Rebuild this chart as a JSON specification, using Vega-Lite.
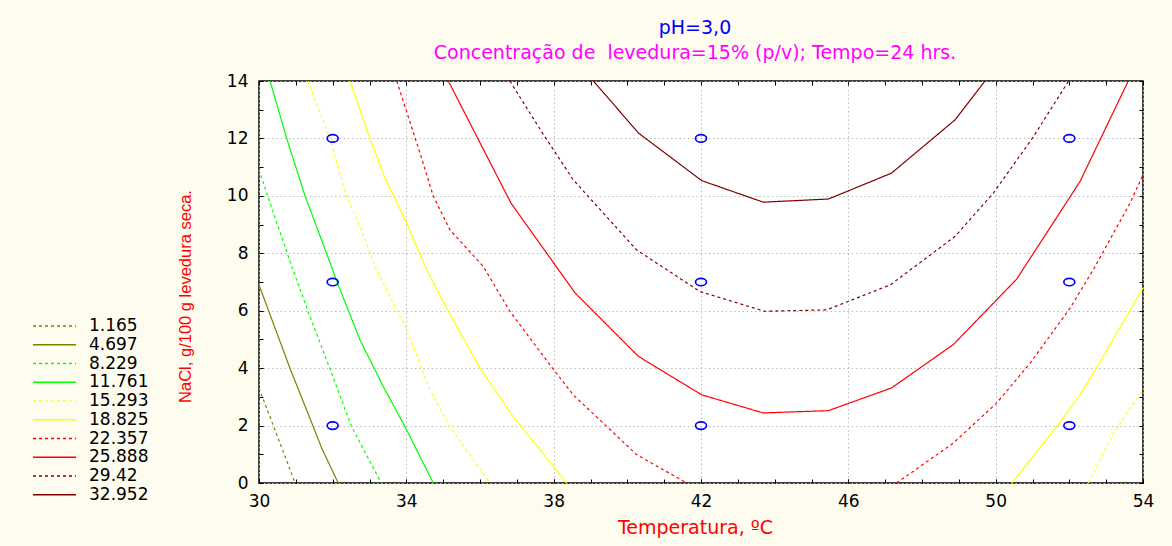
{
  "$schema": "https://vega.github.io/schema/vega-lite/v6.json",
  "autosize": {"type": "none"},
  "width": 884,
  "height": 402,
  "padding": {"left": 259, "top": 81, "right": 29, "bottom": 63},
  "background": "#FEFCEF",
  "config": {
    "view": {"stroke": "#000000", "strokeWidth": 1.5, "fill": "#FFFFFF"}
  },
  "title": {
    "text": "pH=3,0",
    "subtitle": "Concentração de\u00a0 levedura=15% (p/v); Tempo=24 hrs.",
    "color": "#0000FF",
    "subtitleColor": "#FF00FF",
    "font": "DejaVu Sans",
    "subtitleFont": "DejaVu Sans",
    "fontSize": 19,
    "subtitleFontSize": 19,
    "fontWeight": "normal",
    "anchor": "middle",
    "offset": 9,
    "subtitlePadding": 6,
    "dx": -6
  },
  "datasets": {
    "contours": [
      {"level": "1.165", "seg": "1.165a", "i": 0, "x": 30, "y": 3.3},
      {"level": "1.165", "seg": "1.165a", "i": 1, "x": 30.39, "y": 2.0},
      {"level": "1.165", "seg": "1.165a", "i": 2, "x": 30.98, "y": 0},
      {"level": "4.697", "seg": "4.697a", "i": 0, "x": 30, "y": 6.9},
      {"level": "4.697", "seg": "4.697a", "i": 1, "x": 30.84, "y": 4.0},
      {"level": "4.697", "seg": "4.697a", "i": 2, "x": 31.47, "y": 1.97},
      {"level": "4.697", "seg": "4.697a", "i": 3, "x": 31.7, "y": 1.22},
      {"level": "4.697", "seg": "4.697a", "i": 4, "x": 32.15, "y": 0},
      {"level": "8.229", "seg": "8.229a", "i": 0, "x": 30, "y": 10.91},
      {"level": "8.229", "seg": "8.229a", "i": 1, "x": 30.3, "y": 9.75},
      {"level": "8.229", "seg": "8.229a", "i": 2, "x": 30.89, "y": 7.54},
      {"level": "8.229", "seg": "8.229a", "i": 3, "x": 31.33, "y": 5.98},
      {"level": "8.229", "seg": "8.229a", "i": 4, "x": 31.92, "y": 4.0},
      {"level": "8.229", "seg": "8.229a", "i": 5, "x": 32.51, "y": 1.97},
      {"level": "8.229", "seg": "8.229a", "i": 6, "x": 33.32, "y": 0},
      {"level": "11.761", "seg": "11.761a", "i": 0, "x": 30.3, "y": 14},
      {"level": "11.761", "seg": "11.761a", "i": 1, "x": 30.75, "y": 12.01},
      {"level": "11.761", "seg": "11.761a", "i": 2, "x": 31.25, "y": 10.0},
      {"level": "11.761", "seg": "11.761a", "i": 3, "x": 31.83, "y": 8.01},
      {"level": "11.761", "seg": "11.761a", "i": 4, "x": 32.15, "y": 6.9},
      {"level": "11.761", "seg": "11.761a", "i": 5, "x": 32.74, "y": 4.99},
      {"level": "11.761", "seg": "11.761a", "i": 6, "x": 33.42, "y": 3.25},
      {"level": "11.761", "seg": "11.761a", "i": 7, "x": 33.96, "y": 1.97},
      {"level": "11.761", "seg": "11.761a", "i": 8, "x": 34.73, "y": 0},
      {"level": "15.293", "seg": "15.293a", "i": 0, "x": 31.33, "y": 14},
      {"level": "15.293", "seg": "15.293a", "i": 1, "x": 31.92, "y": 12.01},
      {"level": "15.293", "seg": "15.293a", "i": 2, "x": 32.37, "y": 10.0},
      {"level": "15.293", "seg": "15.293a", "i": 3, "x": 32.74, "y": 8.93},
      {"level": "15.293", "seg": "15.293a", "i": 4, "x": 33.19, "y": 7.43},
      {"level": "15.293", "seg": "15.293a", "i": 5, "x": 34.01, "y": 5.34},
      {"level": "15.293", "seg": "15.293a", "i": 6, "x": 34.64, "y": 3.25},
      {"level": "15.293", "seg": "15.293a", "i": 7, "x": 35.18, "y": 1.97},
      {"level": "15.293", "seg": "15.293a", "i": 8, "x": 36.27, "y": 0},
      {"level": "15.293", "seg": "15.293b", "i": 0, "x": 52.52, "y": 0},
      {"level": "15.293", "seg": "15.293b", "i": 1, "x": 53.2, "y": 1.75},
      {"level": "15.293", "seg": "15.293b", "i": 2, "x": 54, "y": 3.25},
      {"level": "18.825", "seg": "18.825a", "i": 0, "x": 32.47, "y": 14},
      {"level": "18.825", "seg": "18.825a", "i": 1, "x": 33.01, "y": 12.01},
      {"level": "18.825", "seg": "18.825a", "i": 2, "x": 33.42, "y": 10.62},
      {"level": "18.825", "seg": "18.825a", "i": 3, "x": 34.01, "y": 9.05},
      {"level": "18.825", "seg": "18.825a", "i": 4, "x": 34.55, "y": 7.43},
      {"level": "18.825", "seg": "18.825a", "i": 5, "x": 35.14, "y": 5.98},
      {"level": "18.825", "seg": "18.825a", "i": 6, "x": 36.0, "y": 4.0},
      {"level": "18.825", "seg": "18.825a", "i": 7, "x": 36.86, "y": 2.38},
      {"level": "18.825", "seg": "18.825a", "i": 8, "x": 37.63, "y": 1.16},
      {"level": "18.825", "seg": "18.825a", "i": 9, "x": 38.35, "y": 0},
      {"level": "18.825", "seg": "18.825b", "i": 0, "x": 50.44, "y": 0},
      {"level": "18.825", "seg": "18.825b", "i": 1, "x": 51.66, "y": 1.97},
      {"level": "18.825", "seg": "18.825b", "i": 2, "x": 52.29, "y": 3.07},
      {"level": "18.825", "seg": "18.825b", "i": 3, "x": 52.92, "y": 4.41},
      {"level": "18.825", "seg": "18.825b", "i": 4, "x": 54, "y": 6.79},
      {"level": "22.357", "seg": "22.357a", "i": 0, "x": 33.74, "y": 14},
      {"level": "22.357", "seg": "22.357a", "i": 1, "x": 34.37, "y": 11.49},
      {"level": "22.357", "seg": "22.357a", "i": 2, "x": 34.73, "y": 10.0},
      {"level": "22.357", "seg": "22.357a", "i": 3, "x": 35.18, "y": 8.82},
      {"level": "22.357", "seg": "22.357a", "i": 4, "x": 36.09, "y": 7.54},
      {"level": "22.357", "seg": "22.357a", "i": 5, "x": 36.81, "y": 5.98},
      {"level": "22.357", "seg": "22.357a", "i": 6, "x": 37.86, "y": 4.18},
      {"level": "22.357", "seg": "22.357a", "i": 7, "x": 38.53, "y": 3.07},
      {"level": "22.357", "seg": "22.357a", "i": 8, "x": 39.44, "y": 1.97},
      {"level": "22.357", "seg": "22.357a", "i": 9, "x": 40.25, "y": 0.99},
      {"level": "22.357", "seg": "22.357a", "i": 10, "x": 41.61, "y": 0},
      {"level": "22.357", "seg": "22.357b", "i": 0, "x": 47.31, "y": 0},
      {"level": "22.357", "seg": "22.357b", "i": 1, "x": 48.85, "y": 1.39},
      {"level": "22.357", "seg": "22.357b", "i": 2, "x": 50.03, "y": 2.79},
      {"level": "22.357", "seg": "22.357b", "i": 3, "x": 50.94, "y": 4.18},
      {"level": "22.357", "seg": "22.357b", "i": 4, "x": 52.02, "y": 6.09},
      {"level": "22.357", "seg": "22.357b", "i": 5, "x": 52.65, "y": 7.43},
      {"level": "22.357", "seg": "22.357b", "i": 6, "x": 53.65, "y": 9.75},
      {"level": "22.357", "seg": "22.357b", "i": 7, "x": 54, "y": 10.73},
      {"level": "25.888", "seg": "25.888a", "i": 0, "x": 35.14, "y": 14},
      {"level": "25.888", "seg": "25.888a", "i": 1, "x": 36.84, "y": 9.75},
      {"level": "25.888", "seg": "25.888a", "i": 2, "x": 38.58, "y": 6.62},
      {"level": "25.888", "seg": "25.888a", "i": 3, "x": 40.3, "y": 4.41},
      {"level": "25.888", "seg": "25.888a", "i": 4, "x": 42.02, "y": 3.07},
      {"level": "25.888", "seg": "25.888a", "i": 5, "x": 43.69, "y": 2.44},
      {"level": "25.888", "seg": "25.888a", "i": 6, "x": 45.46, "y": 2.52},
      {"level": "25.888", "seg": "25.888a", "i": 7, "x": 47.17, "y": 3.31},
      {"level": "25.888", "seg": "25.888a", "i": 8, "x": 48.85, "y": 4.82},
      {"level": "25.888", "seg": "25.888a", "i": 9, "x": 50.57, "y": 7.1},
      {"level": "25.888", "seg": "25.888a", "i": 10, "x": 52.29, "y": 10.5},
      {"level": "25.888", "seg": "25.888a", "i": 11, "x": 53.6, "y": 14},
      {"level": "29.42", "seg": "29.42a", "i": 0, "x": 36.81, "y": 14},
      {"level": "29.42", "seg": "29.42a", "i": 1, "x": 37.67, "y": 12.24},
      {"level": "29.42", "seg": "29.42a", "i": 2, "x": 38.53, "y": 10.56},
      {"level": "29.42", "seg": "29.42a", "i": 3, "x": 40.25, "y": 8.12},
      {"level": "29.42", "seg": "29.42a", "i": 4, "x": 41.97, "y": 6.67},
      {"level": "29.42", "seg": "29.42a", "i": 5, "x": 43.73, "y": 5.98},
      {"level": "29.42", "seg": "29.42a", "i": 6, "x": 45.41, "y": 6.03},
      {"level": "29.42", "seg": "29.42a", "i": 7, "x": 47.14, "y": 6.9},
      {"level": "29.42", "seg": "29.42a", "i": 8, "x": 48.9, "y": 8.59},
      {"level": "29.42", "seg": "29.42a", "i": 9, "x": 49.94, "y": 10.1},
      {"level": "29.42", "seg": "29.42a", "i": 10, "x": 51.03, "y": 12.07},
      {"level": "29.42", "seg": "29.42a", "i": 11, "x": 51.98, "y": 14},
      {"level": "32.952", "seg": "32.952a", "i": 0, "x": 39.08, "y": 14},
      {"level": "32.952", "seg": "32.952a", "i": 1, "x": 40.3, "y": 12.19},
      {"level": "32.952", "seg": "32.952a", "i": 2, "x": 42.02, "y": 10.53},
      {"level": "32.952", "seg": "32.952a", "i": 3, "x": 43.69, "y": 9.78},
      {"level": "32.952", "seg": "32.952a", "i": 4, "x": 45.46, "y": 9.89},
      {"level": "32.952", "seg": "32.952a", "i": 5, "x": 47.17, "y": 10.79},
      {"level": "32.952", "seg": "32.952a", "i": 6, "x": 48.9, "y": 12.65},
      {"level": "32.952", "seg": "32.952a", "i": 7, "x": 49.71, "y": 14}
    ],
    "pts": [
      {"x": 32, "y": 2}, {"x": 32, "y": 7}, {"x": 32, "y": 12},
      {"x": 42, "y": 2}, {"x": 42, "y": 7}, {"x": 42, "y": 12},
      {"x": 52, "y": 2}, {"x": 52, "y": 7}, {"x": 52, "y": 12}
    ]
  },
  "resolve": {"axis": {"x": "independent", "y": "independent"}},
  "layer": [
    {
      "data": {"name": "contours"},
      "mark": {"type": "line", "strokeWidth": 1.2},
      "encoding": {
        "x": {
          "field": "x", "type": "quantitative",
          "scale": {"domain": [30, 54], "nice": false, "zero": false},
          "axis": {
            "orient": "bottom",
            "values": [30, 34, 38, 42, 46, 50, 54],
            "grid": true, "gridColor": "#BBBBBB", "gridDash": [1.5, 2.7], "gridWidth": 1,
            "domain": false,
            "tickSize": -4, "tickColor": "#000000", "tickWidth": 1,
            "labelFont": "DejaVu Sans", "labelFontSize": 17, "labelColor": "#000000", "labelPadding": 14,
            "labelFlush": false,
            "title": "Temperatura, ºC",
            "titleFont": "DejaVu Sans", "titleFontSize": 19, "titleFontWeight": "normal", "titleColor": "#FF0000",
            "titleX": 436, "titleY": 44, "titleAlign": "center", "titleBaseline": "middle"
          }
        },
        "y": {
          "field": "y", "type": "quantitative",
          "scale": {"domain": [0, 14], "nice": false, "zero": false},
          "axis": {
            "orient": "left",
            "values": [0, 2, 4, 6, 8, 10, 12, 14],
            "grid": true, "gridColor": "#BBBBBB", "gridDash": [1.5, 2.7], "gridWidth": 1,
            "domain": false,
            "tickSize": -4, "tickColor": "#000000", "tickWidth": 1,
            "labelFont": "DejaVu Sans", "labelFontSize": 17, "labelColor": "#000000", "labelPadding": 15,
            "labelFlush": false,
            "title": "NaCl, g/100 g levedura seca.",
            "titleFont": "Liberation Sans", "titleFontSize": 16.5, "titleFontWeight": "normal", "titleColor": "#FF0000",
            "titleX": -74, "titleY": 215, "titleAngle": -90, "titleAlign": "center", "titleBaseline": "middle"
          }
        },
        "color": {
          "field": "level", "type": "nominal",
          "scale": {
            "domain": ["1.165", "4.697", "8.229", "11.761", "15.293", "18.825", "22.357", "25.888", "29.42", "32.952"],
            "range": ["#808000", "#808000", "#00FF00", "#00FF00", "#FFFF00", "#FFFF00", "#FF0000", "#FF0000", "#800000", "#800000"]
          },
          "legend": {
            "title": null, "orient": "none", "legendX": -227, "legendY": 237, "padding": 0,
            "symbolType": "stroke", "symbolSize": 1849, "symbolStrokeWidth": 1.5,
            "labelFont": "DejaVu Sans", "labelFontSize": 17, "labelColor": "#000000", "labelOffset": 12,
            "clipHeight": 16, "rowPadding": 1.75, "labelLimit": 200
          }
        },
        "strokeDash": {
          "field": "level", "type": "nominal",
          "scale": {
            "domain": ["1.165", "4.697", "8.229", "11.761", "15.293", "18.825", "22.357", "25.888", "29.42", "32.952"],
            "range": [[3, 3], [1, 0], [3, 3], [1, 0], [3, 3], [1, 0], [3, 3], [1, 0], [3, 3], [1, 0]]
          },
          "legend": {
            "title": null, "orient": "none", "legendX": -227, "legendY": 237, "padding": 0,
            "symbolType": "stroke", "symbolSize": 1849, "symbolStrokeWidth": 1.5,
            "labelFont": "DejaVu Sans", "labelFontSize": 17, "labelColor": "#000000", "labelOffset": 12,
            "clipHeight": 16, "rowPadding": 1.75, "labelLimit": 200
          }
        },
        "detail": {"field": "seg", "type": "nominal"},
        "order": {"field": "i", "type": "quantitative"}
      }
    },
    {
      "data": {"name": "pts"},
      "mark": {"type": "point", "shape": "M-1,0A1,0.68 0 1,0 1,0A1,0.68 0 1,0 -1,0Z", "size": 120, "filled": false, "color": "#0000FF", "strokeWidth": 1.7, "opacity": 1},
      "encoding": {
        "x": {
          "field": "x", "type": "quantitative",
          "scale": {"domain": [30, 54], "nice": false, "zero": false},
          "axis": {
            "orient": "bottom",
            "values": [30, 31, 32, 33, 34, 35, 36, 37, 38, 39, 40, 41, 42, 43, 44, 45, 46, 47, 48, 49, 50, 51, 52, 53, 54],
            "grid": false, "domain": false, "labels": false, "title": null,
            "tickSize": -4, "tickColor": "#000000", "tickWidth": 1
          }
        },
        "y": {
          "field": "y", "type": "quantitative",
          "scale": {"domain": [0, 14], "nice": false, "zero": false},
          "axis": {
            "orient": "left",
            "values": [0, 1, 2, 3, 4, 5, 6, 7, 8, 9, 10, 11, 12, 13, 14],
            "grid": false, "domain": false, "labels": false, "title": null,
            "tickSize": -4, "tickColor": "#000000", "tickWidth": 1
          }
        }
      }
    },
    {
      "data": {"name": "pts"},
      "mark": {"type": "point", "opacity": 0},
      "encoding": {
        "x": {
          "field": "x", "type": "quantitative",
          "scale": {"domain": [30, 54], "nice": false, "zero": false},
          "axis": {
            "orient": "top",
            "values": [30, 31, 32, 33, 34, 35, 36, 37, 38, 39, 40, 41, 42, 43, 44, 45, 46, 47, 48, 49, 50, 51, 52, 53, 54],
            "grid": false, "domain": false, "labels": false, "title": null,
            "tickSize": -4, "tickColor": "#000000", "tickWidth": 1
          }
        },
        "y": {
          "field": "y", "type": "quantitative",
          "scale": {"domain": [0, 14], "nice": false, "zero": false},
          "axis": {
            "orient": "right",
            "values": [0, 1, 2, 3, 4, 5, 6, 7, 8, 9, 10, 11, 12, 13, 14],
            "grid": false, "domain": false, "labels": false, "title": null,
            "tickSize": -4, "tickColor": "#000000", "tickWidth": 1
          }
        }
      }
    }
  ]
}
